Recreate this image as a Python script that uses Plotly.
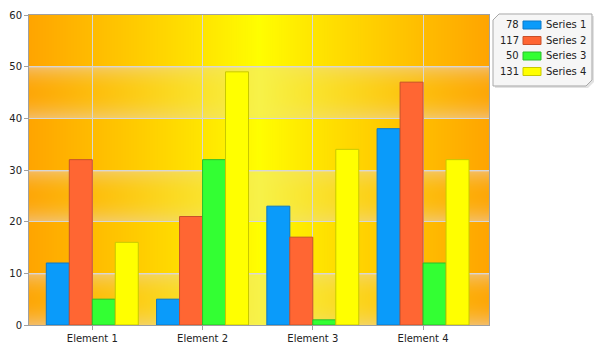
import base64, struct, zlib
import numpy as np
import plotly.graph_objects as go

# ---------------- data ----------------
categories = ["Element 1", "Element 2", "Element 3", "Element 4"]
series_names = ["Series 1", "Series 2", "Series 3", "Series 4"]
series_1 = [12, 5, 23, 38]
series_2 = [32, 21, 17, 47]
series_3 = [5, 32, 1, 12]
series_4 = [16, 49, 34, 32]
y_ticks = [0, 10, 20, 30, 40, 50, 60]

series_values = [series_1, series_2, series_3, series_4]
fills = ["#0A9BFA", "#FF6633", "#33FF33", "#FFFF00"]
edges = ["#0A78C8", "#C8502A", "#2ABF2A", "#C8C800"]

# ---------------- layout geometry ----------------
W, H = 602, 351
L, R, T, B = 29, 489, 15, 325
PW, PH = R - L, B - T


def px2paper_x(px):
    return (px - L) / PW


def px2paper_y(py):
    return (B - py) / PH


# ---------------- background image (gradient + glossy bands) ----------------
def png_data_uri(arr):
    h, w, _ = arr.shape
    raw = b"".join(b"\x00" + arr[r].tobytes() for r in range(h))

    def chunk(t, d):
        return struct.pack(">I", len(d)) + t + d + struct.pack(">I", zlib.crc32(t + d) & 0xFFFFFFFF)

    png = (b"\x89PNG\r\n\x1a\n"
           + chunk(b"IHDR", struct.pack(">IIBBBBB", w, h, 8, 2, 0, 0, 0))
           + chunk(b"IDAT", zlib.compress(raw, 9))
           + chunk(b"IEND", b""))
    return "data:image/png;base64," + base64.b64encode(png).decode()


xs = (np.arange(PW) + 0.5) / PW
t = np.abs(xs - 0.5) / 0.5
s = t ** 0.9
orange = np.array([255, 165, 0], float)
yellow = np.array([255, 255, 0], float)
row = yellow[None, :] * (1 - s[:, None]) + orange[None, :] * s[:, None]
img = np.repeat(row[None, :, :], PH, axis=0)

ymax = y_ticks[-1]
step = y_ticks[1] - y_ticks[0]
vals = ymax * (1 - (np.arange(PH) + 0.5) / PH)
band = np.floor(vals / step).astype(int)
frac = 1 - (vals / step - band)  # 0 at top of band, 1 at bottom
gloss = (band % 2 == 0)
edge_prof = 0.04 + 0.42 * (2 * frac - 1) ** 2
c = (1 - t) ** 2
A = (1 - c[None, :]) * edge_prof[:, None] + c[None, :] * np.maximum(0.32, edge_prof[:, None] * 0.8)
A = np.where((frac < 0.035)[:, None], 0.6, A)
A = A * gloss[:, None]
wash = np.array([230, 216, 228], float)
img = img * (1 - A[:, :, None]) + wash[None, None, :] * A[:, :, None]
img = np.clip(img, 0, 255).astype(np.uint8)
bg_uri = png_data_uri(img)

# ---------------- figure ----------------
fig = go.Figure()
for name, v, fc, ec in zip(series_names, series_values, fills, edges):
    fig.add_trace(go.Bar(
        x=categories, y=v, name=name,
        marker=dict(color=fc, line=dict(color=ec, width=1)),
        showlegend=False,
    ))

font_fam = "DejaVu Sans"
fig.update_layout(
    width=W, height=H,
    margin=dict(l=L, r=W - R, t=T, b=H - B, pad=0, autoexpand=False),
    paper_bgcolor="white",
    plot_bgcolor="rgba(0,0,0,0)",
    barmode="group",
    bargap=0.166,
    bargroupgap=0,
    font=dict(family=font_fam, size=10, color="#222222"),
    xaxis=dict(
        range=[-0.574, 3.598], automargin=False,
        showgrid=True, gridcolor="#D6D6D6", gridwidth=1,
        showline=True, linecolor="#A0A0A0", linewidth=1, mirror=True,
        ticks="outside", ticklen=4, tickcolor="#A0A0A0",
        tickfont=dict(family=font_fam, size=10, color="#222222"),
        fixedrange=True,
    ),
    yaxis=dict(
        range=[0, ymax], tickvals=y_ticks, automargin=False,
        showgrid=True, gridcolor="#D6D6D6", gridwidth=1,
        zeroline=False,
        showline=True, linecolor="#A0A0A0", linewidth=1, mirror=True,
        ticks="outside", ticklen=4, tickcolor="#A0A0A0",
        tickfont=dict(family=font_fam, size=10, color="#222222"),
        fixedrange=True,
    ),
    images=[dict(source=bg_uri, xref="paper", yref="paper", x=0, y=1,
                 sizex=1, sizey=1, xanchor="left", yanchor="top",
                 sizing="stretch", layer="below")],
)

# ---------------- custom legend ----------------
bx0, bx1, by0, by1, ch = 493, 592, 14, 86, 6


def chamfer_path(x0, x1, y0, y1, c):
    pts = [(x0 + c, y0), (x1, y0), (x1, y1 - c), (x1 - c, y1), (x0, y1), (x0, y0 + c)]
    return "M " + " L ".join(f"{px2paper_x(a):.5f},{px2paper_y(b):.5f}" for a, b in pts) + " Z"


fig.add_shape(type="path", xref="paper", yref="paper",
              path=chamfer_path(bx0 + 2, bx1 + 2, by0 + 2, by1 + 2, ch),
              fillcolor="#E2E2E2", line=dict(width=0))
fig.add_shape(type="path", xref="paper", yref="paper",
              path=chamfer_path(bx0, bx1, by0, by1, ch),
              fillcolor="#F6F6F6", line=dict(color="#A8A8A8", width=1))

row_y = [25, 40.5, 56, 71.5]
for i, (name, v, fc, ec) in enumerate(zip(series_names, series_values, fills, edges)):
    yc = row_y[i]
    fig.add_shape(type="rect", xref="paper", yref="paper",
                  x0=px2paper_x(523), x1=px2paper_x(541),
                  y0=px2paper_y(yc + 4), y1=px2paper_y(yc - 4),
                  fillcolor=fc, line=dict(color=ec, width=1))
    fig.add_annotation(xref="paper", yref="paper", x=px2paper_x(521), y=px2paper_y(yc),
                       text=str(sum(v)), showarrow=False, xanchor="right", yanchor="middle",
                       font=dict(family=font_fam, size=10, color="#222222"))
    fig.add_annotation(xref="paper", yref="paper", x=px2paper_x(544), y=px2paper_y(yc),
                       text=name, showarrow=False, xanchor="left", yanchor="middle",
                       font=dict(family=font_fam, size=10, color="#222222"))

fig.write_html("out.html")
